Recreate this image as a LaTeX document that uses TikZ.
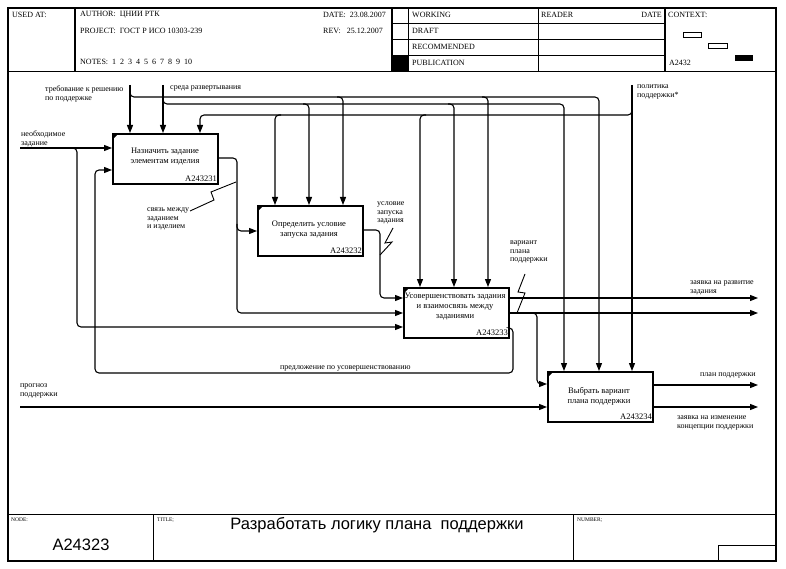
\documentclass[tikz,border=0pt]{standalone}
\usepackage{fontspec}
\setmainfont{Liberation Serif}
\newfontfamily\arialf{Liberation Sans}
\usetikzlibrary{arrows.meta,calc}
\begin{document}
\begin{tikzpicture}[x=1pt,y=-1pt,
  conn/.style={line width=1.1pt, rounded corners=4pt},
  arr/.style={conn, -{Triangle[length=8pt,width=6pt]}},
  fbox/.style={draw, line width=2pt, minimum width=105pt, minimum height=50pt, anchor=north west, inner sep=0pt},
  btext/.style={font=\fontsize{8.5}{10}\selectfont, align=center, inner sep=0pt},
  bnum/.style={font=\fontsize{8.5}{9}\selectfont, inner sep=0pt, anchor=south east},
  lbl/.style={font=\fontsize{8}{8.3}\selectfont, align=left, inner sep=0pt, anchor=north west},
  hdr/.style={font=\fontsize{8}{9}\selectfont, inner sep=0pt, anchor=west},
  tiny/.style={font=\fontsize{5.5}{6}\selectfont, inner sep=0pt, anchor=west},
  zig/.style={line width=0.9pt}
]
\useasboundingbox (0,0) rectangle (786,569);
% ---------- frame ----------
\draw[line width=1.2pt] (8,8) rectangle (776,561);
\draw[line width=1pt] (8,72) -- (776,72);
\draw[line width=1.5pt] (75,8) -- (75,72);
\draw[line width=1.5pt] (392,8) -- (392,72);
\draw[line width=0.8pt] (408,8) -- (408,72);
\draw[line width=0.8pt] (538,8) -- (538,72);
\draw[line width=1.2pt] (665,8) -- (665,72);
\foreach \yy in {23,39,55} \draw[line width=0.8pt] (392,\yy) -- (665,\yy);
\fill (392,55) rectangle (408,72);
% header texts
\node[hdr] (usedat) at (12,15) {USED AT:};
\node[hdr] (author) at (80,15) {AUTHOR:\ \ ЦНИИ РТК};
\node[hdr] (date) at (323,15) {DATE:\ \ 23.08.2007};
\node[hdr] (project) at (80,31) {PROJECT:\ \ ГОСТ Р ИСО 10303-239};
\node[hdr] (rev) at (323,31) {REV:\ \ \ 25.12.2007};
\node[hdr] (notes) at (80,62) {NOTES:\ \ 1\ \ 2\ \ 3\ \ 4\ \ 5\ \ 6\ \ 7\ \ 8\ \ 9\ \ 10};
\node[hdr] (working) at (412,15) {WORKING};
\node[hdr] (draft) at (412,31) {DRAFT};
\node[hdr] (recom) at (412,47) {RECOMMENDED};
\node[hdr] (publ) at (412,63) {PUBLICATION};
\node[hdr] (reader) at (541,15) {READER};
\node[hdr, anchor=east] (rdate) at (662,15) {DATE};
\node[hdr] (context) at (668,15) {CONTEXT:};
\node[hdr] (ctxnum) at (669,63) {A2432};
\draw[line width=0.8pt] (683,32) rectangle (701,37);
\draw[line width=0.8pt] (708,43) rectangle (727,48);
\fill (735,55) rectangle (753,61);
% ---------- footer ----------
\draw[line width=1pt] (8,514) -- (776,514);
\draw[line width=1pt] (153,514) -- (153,561);
\draw[line width=1pt] (573,514) -- (573,561);
\draw[line width=0.8pt] (718,545) rectangle (776,561);
\node[tiny] (nodelbl) at (11,520) {NODE:};
\node[tiny] (titlelbl) at (157,520) {TITLE;};
\node[tiny] (numlbl) at (577,520) {NUMBER;};
\node[font=\arialf\fontsize{16.5}{17}\selectfont, inner sep=0pt] (nodenum) at (81,545) {A24323};
\node[font=\arialf\fontsize{16.5}{17}\selectfont, inner sep=0pt] (title) at (377,525) {Разработать логику плана\ \ поддержки};
% ---------- boxes ----------
\node[fbox] (b1) at (112,133) {};
\node[fbox] (b2) at (257,205) {};
\node[fbox] (b3) at (403,287) {};
\node[fbox] (b4) at (547,371) {};
\foreach \b in {b1,b2,b3,b4} {
  \fill ($(\b.north west)+(1,1)$) -- ++(5,0) -- ++(-5,5) -- cycle;
}
\node[btext] (t1) at (165,157) {Назначить задание\\элементам изделия};
\node[btext] (t2) at (309,230) {Определить условие\\запуска задания};
\node[btext] (t3) at (455,307) {Усовершенствовать задания\\и взаимосвязь между\\заданиями};
\node[btext] (t4) at (599,396) {Выбрать вариант\\плана поддержки};
\node[bnum] (n1) at ($(b1.south east)+(-2,-3)$) {A243231};
\node[bnum] (n2) at ($(b2.south east)+(-2,-3)$) {A243232};
\node[bnum] (n3) at ($(b3.south east)+(-2,-3)$) {A243233};
\node[bnum] (n4) at ($(b4.south east)+(-2,-3)$) {A243234};
% ---------- labels ----------
\node[lbl] (ltreb) at (45,86) {требование к решению\\по поддержке};
\node[lbl] (lsreda) at (170,86) {среда развертывания};
\node[lbl] (lpolit) at (637,85) {политика\\поддержки*};
\node[lbl] (lneobh) at (21,131) {необходимое\\задание};
\node[lbl] (lsvyaz) at (147,208) {связь между\\заданием\\и изделием};
\node[lbl] (lusl) at (377,202) {условие\\запуска\\задания};
\node[lbl] (lvar) at (510,241) {вариант\\плана\\поддержки};
\node[lbl] (lzayrazv) at (690,281) {заявка на развитие\\задания};
\node[lbl] (lpredl) at (280,366) {предложение по усовершенствованию};
\node[lbl] (lprog) at (20,384) {прогноз\\поддержки};
\node[lbl] (lplan) at (700,373) {план поддержки};
\node[lbl] (lzayizm) at (677,416) {заявка на изменение\\концепции поддержки};
% ---------- controls ----------
\coordinate (ctreb) at (130,85);
\coordinate (csreda) at (163,85);
\coordinate (cpolit) at (632,85);
\draw[arr] (ctreb) -- (130,0 |- b1.north);
\draw[arr] (csreda) -- (163,0 |- b1.north);
\draw[arr] (cpolit) -- (632,0 |- b4.north);
% bus A (требование) y=97
\draw[arr] (130,91) -- (130,97) -- (599,97) -- (599,0 |- b4.north);
\draw[arr] (337,97) -- (343,97) -- (343,0 |- b2.north);
\draw[arr] (482,97) -- (488,97) -- (488,0 |- b3.north);
% bus B (среда) y=104
\draw[arr] (163,98) -- (163,104) -- (564,104) -- (564,0 |- b4.north);
\draw[arr] (303,104) -- (309,104) -- (309,0 |- b2.north);
\draw[arr] (448,104) -- (454,104) -- (454,0 |- b3.north);
% bus C (политика) y=115
\draw[arr] (632,109) -- (632,115) -- (200,115) -- (200,0 |- b1.north);
\draw[arr] (281,115) -- (275,115) -- (275,0 |- b2.north);
\draw[arr] (426,115) -- (420,115) -- (420,0 |- b3.north);
% ---------- inputs ----------
\coordinate (ineobh) at (20,148);
\draw[arr] (ineobh) -- (b1.west |- 0,148);
\draw[arr] (71,148) -- (77,148) -- (77,327) -- (b3.west |- 0,327);
\coordinate (iprog) at (20,407);
\draw[arr] (iprog) -- (b4.west |- 0,407);
% box1 output
\draw[arr] (b1.east |- 0,158) -- (237,158) -- (237,313) -- (b3.west |- 0,313);
\draw[arr] (237,224) -- (237,231) -- (b2.west |- 0,231);
% box2 output
\draw[arr] (b2.east |- 0,230) -- (380,230) -- (380,298) -- (b3.west |- 0,298);
% box3 outputs
\coordinate (ozayrazv) at (758,298);
\coordinate (ovar) at (758,313);
\draw[arr] (b3.east |- 0,298) -- (ozayrazv);
\draw[arr] (b3.east |- 0,313) -- (ovar);
\draw[arr] (531,313) -- (537,313) -- (537,384) -- (b4.west |- 0,384);
% feedback
\draw[arr] (b3.east |- 0,328) -- (513,328) -- (513,373) -- (95,373) -- (95,170) -- (b1.west |- 0,170);
% box4 outputs
\coordinate (oplan) at (758,385);
\coordinate (ozayizm) at (758,407);
\draw[arr] (b4.east |- 0,385) -- (oplan);
\draw[arr] (b4.east |- 0,407) -- (ozayizm);
% ---------- squiggles ----------
\draw[zig] (190,211) -- (214,200) -- (211,192) -- (236,182);
\draw[zig] (393,228) -- (385,243) -- (392,242) -- (380,255);
\draw[zig] (525,274) -- (518,292) -- (525,293) -- (517,313);
\end{tikzpicture}
\end{document}
